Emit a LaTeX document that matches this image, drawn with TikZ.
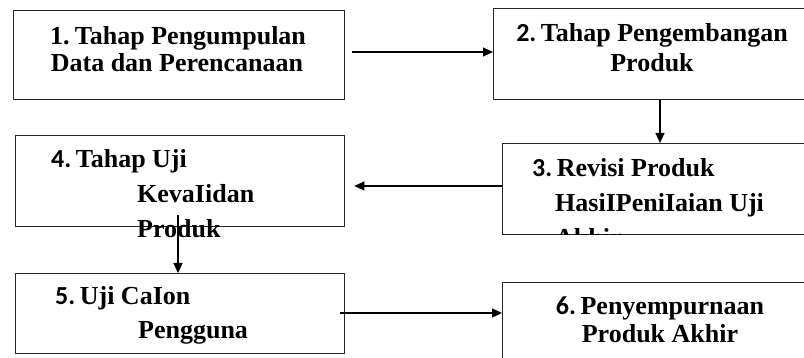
\documentclass[tikz,border=0pt]{standalone}
\usepackage{fontspec}
\setmainfont{Liberation Serif}
\newfontfamily\numf{Carlito}
\newcommand{\numsp}[1]{{\numf #1}\hspace{4.5pt}}
\usetikzlibrary{arrows.meta}
\begin{document}
\begin{tikzpicture}[x=1pt,y=-1pt,
  box/.style={draw=black!85, line width=1.3pt, fill=white, inner sep=0pt, anchor=north west},
  lbl/.style={inner sep=0pt, font=\fontsize{26}{27}\selectfont\bfseries},
  lw/.style={lbl, anchor=base west},
  lc/.style={lbl, anchor=base},
  arr/.style={line width=1.3pt, -{Triangle[length=10pt,width=9pt]}}]
\useasboundingbox (0,0) rectangle (804,358);
\clip (0,0) rectangle (804,358);
% boxes
\node[box, minimum width=331pt, minimum height=89pt] (b1) at (13,10) {};
\node[box, minimum width=330pt, minimum height=91pt] (b2) at (493,8) {};
\node[box, minimum width=320pt, minimum height=91pt] (b3) at (502,143) {};
\node[box, minimum width=329pt, minimum height=91pt] (b4) at (15,135) {};
\node[box, minimum width=329pt, minimum height=80pt] (b5) at (15,273) {};
\node[box, minimum width=320pt, minimum height=100pt] (b6) at (502,282) {};
% texts
\node[lc] (t1a) at (178,45) {1.\hspace{5.5pt}Tahap Pengumpulan};
\node[lc] (t1b) at (177,72) {Data dan Perencanaan};
\node[lc] (t2a) at (652,42) {\numsp{2.}Tahap Pengembangan};
\node[lc] (t2b) at (652,72) {Produk};
\begin{scope}
  \clip (b3.north west) rectangle ([yshift=0.65pt]b3.south east);
  \node[lw] (t3a) at (532,177) {\numsp{3.}Revisi Produk};
  \node[lw] (t3b) at (555,212) {HasiIPeniIaian Uji};
  \node[lw] (t3c) at (555,247) {Akhir};
\end{scope}
\node[lw] (t4a) at (51,168) {\numsp{4.}Tahap Uji};
\node[lw] (t4b) at (137,203) {KevaIidan};
\node[lw] (t4c) at (137,238) {Produk};
\node[lw] (t5a) at (55,305) {\numsp{5.}Uji CaIon};
\node[lw] (t5b) at (138,338) {Pengguna};
\node[lc] (t6a) at (660,315) {\numsp{6.}Penyempurnaan};
\node[lc] (t6b) at (660,343) {Produk Akhir};
% connectors
\coordinate (c12) at (352,52);
\coordinate (x23) at (660,0);
\coordinate (y34) at (0,186);
\coordinate (c45) at (178,215);
\coordinate (c56) at (340,313);
\draw[arr] (c12) -- (c12 -| b2.west);
\draw[arr] (b2.south -| x23) -- (b3.north -| x23);
\draw[arr] (b3.west |- y34) -- ([xshift=9pt]b4.east |- y34);
\draw[arr] (c45) -- (c45 |- b5.north);
\draw[arr] (c56) -- (c56 -| b6.west);
\end{tikzpicture}
\end{document}
